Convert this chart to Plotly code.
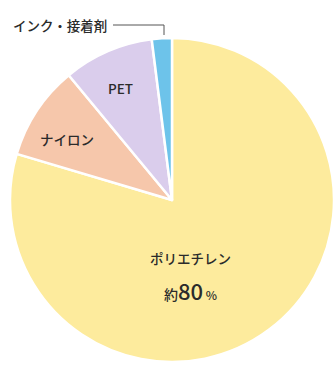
import plotly.graph_objects as go

labels = ["ポリエチレン", "ナイロン", "PET", "インク・接着剤"]
values = [79.6, 9.4, 9.0, 2.0]
colors = ["#FDEB9D", "#F6C7AB", "#DACDEC", "#6DC3EA"]

W, H = 334, 365
def px(x): return x / W
def py(y): return 1 - y / H

fig = go.Figure(go.Pie(
    labels=labels, values=values, sort=False, direction="clockwise", rotation=0,
    marker=dict(colors=colors, line=dict(color="white", width=2.5)),
    textinfo="none", hoverinfo="label+percent",
    domain=dict(x=[10 / W, 1], y=[py(362), py(38)]),
    showlegend=False,
))

font = "Noto Sans CJK JP, Noto Sans, sans-serif"
tc = "#2b2b2b"
ann = [
    dict(x=px(60), y=py(25), text="インク・接着剤", size=13.5),
    dict(x=px(120), y=py(88), text="PET", size=13.5),
    dict(x=px(67), y=py(139), text="ナイロン", size=13.5),
    dict(x=px(190), y=py(258), text="ポリエチレン", size=13.5),
    dict(x=px(190), y=py(290),
         text="約<span style='font-size:22px'>80</span><span style='font-size:12px'> %</span>", size=14),
]
fig.update_layout(
    width=W, height=H, margin=dict(l=0, r=0, t=0, b=0),
    paper_bgcolor="white", plot_bgcolor="white",
    annotations=[dict(x=a["x"], y=a["y"], xref="paper", yref="paper", text=a["text"],
                      showarrow=False, xanchor="center", yanchor="middle",
                      font=dict(family=font, size=a["size"], color=tc, weight=500)) for a in ann],
    shapes=[dict(type="path", xref="paper", yref="paper",
                 path=f"M {px(113)} {py(25)} L {px(164)} {py(25)} L {px(164)} {py(35)}",
                 line=dict(color="#555555", width=1))],
)
fig.write_html("out.html")
